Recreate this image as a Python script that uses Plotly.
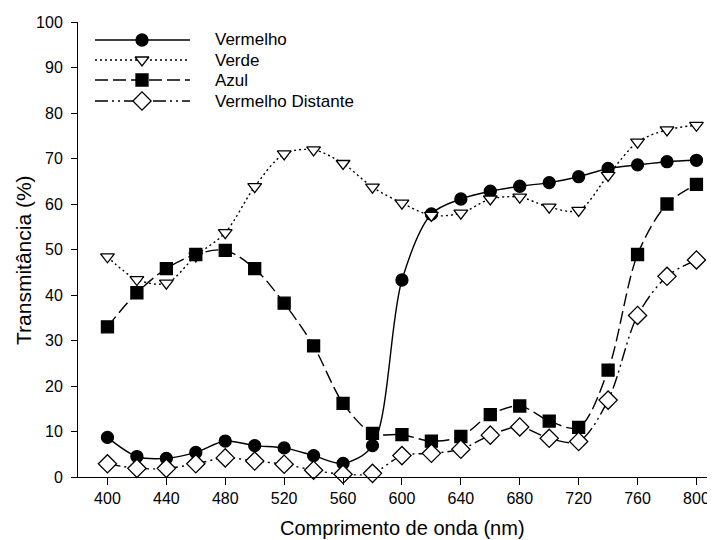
import plotly.graph_objects as go

wavelength = [400, 420, 440, 460, 480, 500, 520, 540, 560, 580, 600,
              620, 640, 660, 680, 700, 720, 740, 760, 780, 800]
vermelho = [8.7, 4.5, 4.1, 5.4, 7.9, 6.9, 6.4, 4.7, 3.0, 6.9, 43.3,
            57.8, 61.1, 62.8, 63.9, 64.7, 66.0, 67.8, 68.6, 69.3, 69.6]
verde = [48.4, 43.4, 42.6, 48.6, 53.7, 63.8, 71.0, 71.9, 68.9, 63.7, 60.2,
         57.5, 58.0, 61.1, 61.5, 59.3, 58.6, 66.3, 73.6, 76.3, 77.3]
azul = [33.0, 40.5, 45.8, 48.9, 49.8, 45.8, 38.2, 28.8, 16.2, 9.6, 9.3,
        7.9, 8.9, 13.7, 15.6, 12.3, 10.9, 23.5, 48.9, 60.0, 64.3]
distante = [2.9, 1.9, 1.9, 2.9, 4.2, 3.5, 2.8, 1.5, 0.6, 0.8, 4.7,
            5.2, 6.1, 9.2, 11.0, 8.5, 7.8, 16.9, 35.5, 44.1, 47.7]

names = ["Vermelho", "Verde", "Azul", "Vermelho Distante"]
x_ticks = list(range(400, 801, 40))
y_ticks = list(range(0, 101, 10))
x_title = "Comprimento de onda (nm)"
y_title = "Transmitância (%)"

FONT = "Arial, Liberation Sans, sans-serif"
styles = [
    dict(dash="solid", symbol="circle", fill="black", size=12),
    dict(dash="2px,3px", symbol="triangle-down", fill="white", size=12),
    dict(dash="13px,5px", symbol="square", fill="black", size=12),
    dict(dash="13px,4px,2px,4px,2px,4px", symbol="diamond", fill="white", size=14),
]
series = [vermelho, verde, azul, distante]

# page has an 8px body margin: plot area spans screen x 78..715, y 22..477
PL, PR, PT, PB = 78, 715, 22, 477
def sx(px):
    return (px - PL) / (PR - PL)
def sy(py):
    return (PB - py) / (PB - PT)

fig = go.Figure()
for name, ys, st in zip(names, series, styles):
    fig.add_trace(go.Scatter(
        x=wavelength, y=ys, name=name, mode="lines+markers",
        line=dict(color="black", width=1.4, dash=st["dash"], shape="spline", smoothing=0.9),
        marker=dict(symbol=st["symbol"], size=st["size"], color=st["fill"],
                    line=dict(color="black", width=1.3)),
        cliponaxis=False, showlegend=False,
    ))

# custom legend on an overlay axis measured in screen pixels
leg_rows = [40, 60, 80, 101]
for name, st, yrow in zip(names, styles, leg_rows):
    fig.add_trace(go.Scatter(
        x=[95, 190], y=[yrow, yrow], mode="lines", xaxis="x2", yaxis="y2",
        line=dict(color="black", width=1.4, dash=st["dash"]),
        showlegend=False, hoverinfo="skip",
    ))
    fig.add_trace(go.Scatter(
        x=[142], y=[yrow], mode="markers", xaxis="x2", yaxis="y2",
        marker=dict(symbol=st["symbol"], size=st["size"], color=st["fill"],
                    line=dict(color="black", width=1.3)),
        showlegend=False, hoverinfo="skip",
    ))
    fig.add_annotation(x=sx(213), y=sy(yrow), xref="paper", yref="paper", text=name,
                       showarrow=False, xanchor="left", yanchor="middle",
                       font=dict(family=FONT, size=17, color="black"))

fig.add_annotation(x=sx(402), y=sy(528), xref="paper", yref="paper", text=x_title,
                   showarrow=False, xanchor="center", yanchor="middle",
                   font=dict(family=FONT, size=20, color="black"))
fig.add_annotation(x=sx(24), y=sy(260), xref="paper", yref="paper", text=y_title,
                   showarrow=False, xanchor="center", yanchor="middle", textangle=-90,
                   font=dict(family=FONT, size=21, color="black"))

fig.update_layout(
    width=707, height=532,
    margin=dict(l=70, r=0, t=14, b=63, autoexpand=False),
    paper_bgcolor="white", plot_bgcolor="white",
    font=dict(family=FONT, color="black"),
    showlegend=False,
    xaxis=dict(range=[380, 812.6], tickvals=x_ticks, ticks="outside", ticklen=7,
               tickcolor="black", showline=True, linecolor="black", linewidth=1,
               showgrid=False, zeroline=False, tickfont=dict(size=16), automargin=False),
    yaxis=dict(range=[0, 100], tickvals=y_ticks, ticks="outside", ticklen=6,
               tickcolor="black", showline=True, linecolor="black", linewidth=1,
               showgrid=False, zeroline=False, tickfont=dict(size=16), automargin=False,
               ticklabelstandoff=5),
    xaxis2=dict(range=[PL, PR], overlaying="x", visible=False, fixedrange=True),
    yaxis2=dict(range=[PB, PT], overlaying="y", visible=False, fixedrange=True),
)

fig.write_html("out.html")
